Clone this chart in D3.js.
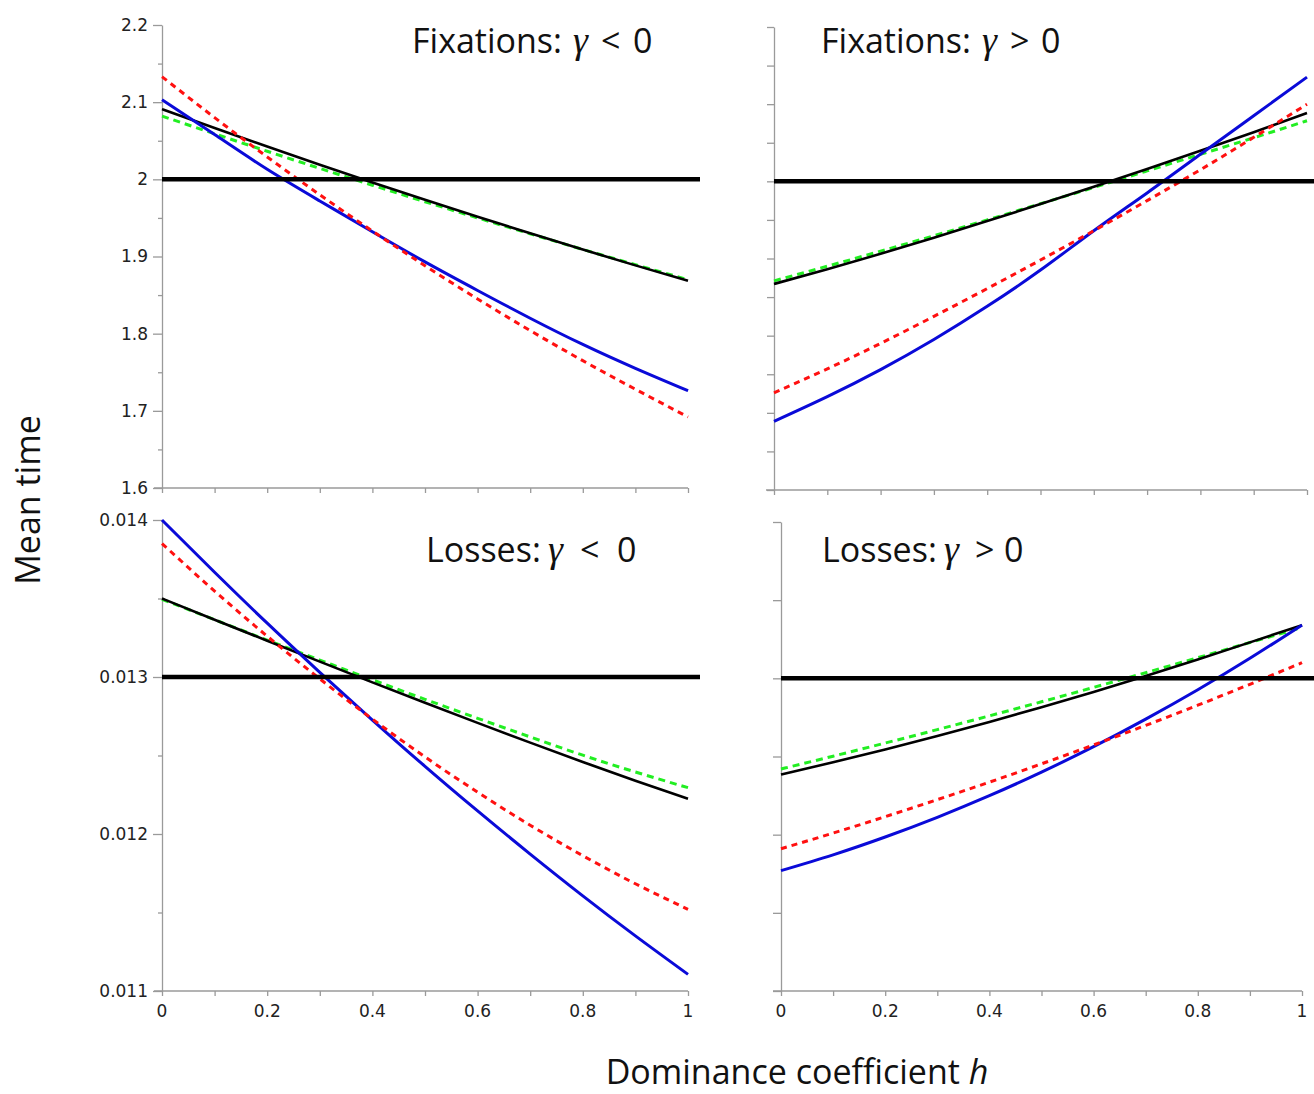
<!DOCTYPE html>
<html lang="en">
<head>
    <meta charset="UTF-8">
    <title>Mean time vs dominance</title>
    <style>
        body { margin: 0; background: #fff; }
        svg text { font-family: "DejaVu Sans", Arial, sans-serif; }
    </style>
</head>
<body>
    <svg id="container" width="1314" height="1094"></svg>

<script src="https://cdn.jsdelivr.net/npm/d3@7/dist/d3.min.js"></script>
<script>

    // dominance coefficient h (x values shared by all curves)
    let hValues = [0, 0.1, 0.2, 0.3, 0.4, 0.5, 0.6, 0.7, 0.8, 0.9, 1]

    // Fixations, gamma < 0
    let fixNegBlue  = [2.103, 2.058, 2.013, 1.972, 1.932, 1.893, 1.856, 1.820, 1.786, 1.755, 1.726]
    let fixNegRed   = [2.133, 2.080, 2.029, 1.980, 1.933, 1.888, 1.845, 1.804, 1.765, 1.728, 1.692]
    let fixNegBlack = [2.091, 2.0665, 2.0425, 2.019, 1.996, 1.9735, 1.9515, 1.930, 1.909, 1.8885, 1.8685]
    let fixNegGreen = [2.082, 2.059, 2.0364, 2.0142, 1.9924, 1.971, 1.950, 1.9294, 1.9092, 1.8894, 1.870]

    // Fixations, gamma > 0
    let fixPosBlue  = [1.689, 1.721, 1.756, 1.795, 1.838, 1.885, 1.936, 1.985, 2.035, 2.085, 2.135]
    let fixPosRed   = [1.726, 1.757, 1.790, 1.825, 1.861, 1.898, 1.936, 1.975, 2.015, 2.057, 2.100]
    let fixPosBlack = [1.867, 1.886, 1.906, 1.927, 1.9485, 1.9705, 1.993, 2.016, 2.0395, 2.0635, 2.0885]
    let fixPosGreen = [1.871, 1.890, 1.9095, 1.9295, 1.950, 1.971, 1.992, 2.0135, 2.035, 2.0565, 2.0785]

    // Losses, gamma < 0
    let lossNegBlue  = [0.014000, 0.013667, 0.013343, 0.013030, 0.012726, 0.012431, 0.012147, 0.011872, 0.011606, 0.011351, 0.011106]
    let lossNegRed   = [0.013850, 0.013547, 0.013260, 0.012988, 0.012732, 0.012491, 0.012266, 0.012056, 0.011862, 0.011683, 0.011520]
    let lossNegBlack = [0.013500, 0.013365, 0.013231, 0.013098, 0.012966, 0.012836, 0.012708, 0.012582, 0.012459, 0.012339, 0.012225]
    let lossNegGreen = [0.013495, 0.013365, 0.013235, 0.013108, 0.012982, 0.012858, 0.012737, 0.012618, 0.012502, 0.012395, 0.012295]

    // Losses, gamma > 0
    let lossPosBlue  = [0.011770, 0.011871, 0.011985, 0.012111, 0.012249, 0.012400, 0.012563, 0.012739, 0.012927, 0.013128, 0.013341]
    let lossPosRed   = [0.011910, 0.012010, 0.012115, 0.012224, 0.012336, 0.012453, 0.012574, 0.012699, 0.012828, 0.012962, 0.013100]
    let lossPosBlack = [0.012385, 0.012463, 0.012545, 0.012631, 0.012721, 0.012815, 0.012913, 0.013015, 0.013121, 0.013230, 0.013340]
    let lossPosGreen = [0.012420, 0.012502, 0.012586, 0.012672, 0.012760, 0.012850, 0.012942, 0.013036, 0.013132, 0.013229, 0.013325]

    // reference levels (thick horizontal lines)
    let fixReference = 2
    let lossReference = 0.013

    // tick values
    let xMajorTicks = [0, 0.2, 0.4, 0.6, 0.8, 1]
    let xMinorTicks = [0, 0.1, 0.2, 0.3, 0.4, 0.5, 0.6, 0.7, 0.8, 0.9, 1]
    let fixMajorTicks = [1.6, 1.7, 1.8, 1.9, 2, 2.1, 2.2]
    let fixMinorTicks = [1.65, 1.75, 1.85, 1.95, 2.05, 2.15]
    let lossMajorTicks = [0.011, 0.012, 0.013, 0.014]
    let lossMinorTicks = [0.0115, 0.0125, 0.0135]

    // panel titles: label, gamma, relation, value
    let titles = [
        ["Fixations:", "γ", "<", "0"],
        ["Fixations:", "γ", ">", "0"],
        ["Losses:", "γ", "<", "0"],
        ["Losses:", "γ", ">", "0"]
    ]

    let container = d3.select("#container")

    let panels = [
        { left: 162, right: 688, top: 25, bottom: 488, domain: [1.6, 2.2], ref: fixReference, refEnd: 700,
          major: fixMajorTicks, minor: fixMinorTicks, yLabels: true, xLabels: false, majorLen: 9, minorLen: 4,
          series: [fixNegGreen, fixNegBlack, fixNegBlue, fixNegRed], title: titles[0],
          titleXs: [412, 573, 601, 633], titleY: 53 },
        { left: 774, right: 1307, top: 27, bottom: 490, domain: [1.6, 2.2], ref: fixReference, refEnd: 1314,
          major: fixMajorTicks, minor: fixMinorTicks, yLabels: false, xLabels: false, majorLen: 7, minorLen: 7,
          series: [fixPosGreen, fixPosBlack, fixPosBlue, fixPosRed], title: titles[1],
          titleXs: [821, 982, 1010, 1041], titleY: 53 },
        { left: 162, right: 688, top: 520, bottom: 991, domain: [0.011, 0.014], ref: lossReference, refEnd: 700,
          major: lossMajorTicks, minor: lossMinorTicks, yLabels: true, xLabels: true, majorLen: 9, minorLen: 4,
          series: [lossNegGreen, lossNegBlack, lossNegBlue, lossNegRed], title: titles[2],
          titleXs: [426, 548, 580, 617], titleY: 562 },
        { left: 781, right: 1302, top: 522, bottom: 991, domain: [0.011, 0.014], ref: lossReference, refEnd: 1314,
          major: lossMajorTicks, minor: lossMinorTicks, yLabels: false, xLabels: true, majorLen: 8, minorLen: 8,
          series: [lossPosGreen, lossPosBlack, lossPosBlue, lossPosRed], title: titles[3],
          titleXs: [822, 944, 975, 1004], titleY: 562 }
    ]

    // green dashed, black solid, blue solid, red dashed
    let styles = [
        { color: "#22ee22", width: 3, dash: "7,5" },
        { color: "#000000", width: 2.6, dash: null },
        { color: "#0a0ad8", width: 3, dash: null },
        { color: "#ff1010", width: 3, dash: "6,5" }
    ]

    let axisColor = "#9a9a9a"

    panels.forEach(drawPanel)

    function drawPanel(p) {

        let x = d3.scaleLinear().domain([0, 1]).range([p.left, p.right])
        let y = d3.scaleLinear().domain(p.domain).range([p.bottom, p.top])

        let g = container.append("g")

        // y axis
        let yAxis = d3.axisLeft(y)
            .tickValues(p.major)
            .tickSize(p.majorLen)
            .tickSizeOuter(0)
            .tickPadding(5)
            .tickFormat(p.yLabels ? d3.format("~g") : "")
        let ya = g.append("g").attr("transform", `translate(${p.left},0)`).call(yAxis)

        let yMinor = d3.axisLeft(y).tickValues(p.minor).tickSize(p.minorLen).tickFormat("")
        let ym = g.append("g").attr("transform", `translate(${p.left},0)`).call(yMinor)
        ym.select(".domain").remove()

        // x axis
        let xAxis = d3.axisBottom(x)
            .tickValues(xMinorTicks)
            .tickSize(5)
            .tickSizeOuter(0)
            .tickFormat("")
        let xa = g.append("g").attr("transform", `translate(0,${p.bottom})`).call(xAxis)
        xa.select(".domain").remove()
        g.append("line")
            .attr("x1", p.left - 8).attr("x2", p.right)
            .attr("y1", p.bottom).attr("y2", p.bottom)
            .attr("stroke", axisColor).attr("stroke-width", 1.3)

        if (p.xLabels) {
            g.append("g").selectAll("text")
                .data(xMajorTicks)
                .join("text")
                .attr("x", d => x(d))
                .attr("y", p.bottom + 26)
                .attr("text-anchor", "middle")
                .attr("font-size", 17)
                .attr("fill", "#222")
                .text(d3.format("~g"))
        }

        g.selectAll(".tick line, .domain")
            .attr("stroke", axisColor)
            .attr("stroke-width", 1.3)
        ya.selectAll("text")
            .attr("font-size", 17)
            .attr("fill", "#222")

        // curves
        let line = d3.line()
            .x((d, i) => x(hValues[i]))
            .y(d => y(d))
            .curve(d3.curveNatural)

        p.series.forEach((values, i) => {
            let s = styles[i]
            g.append("path")
                .attr("d", line(values))
                .attr("fill", "none")
                .attr("stroke", s.color)
                .attr("stroke-width", s.width)
                .attr("stroke-dasharray", s.dash)
        })

        // reference line
        g.append("line")
            .attr("x1", p.left).attr("x2", p.refEnd)
            .attr("y1", y(p.ref)).attr("y2", y(p.ref))
            .attr("stroke", "#000")
            .attr("stroke-width", 4.5)

        // panel title, each piece placed on its own
        let sizes = [34, 38, 34, 34]
        p.title.forEach((part, i) => {
            let t = g.append("text")
                .attr("x", p.titleXs[i])
                .attr("y", p.titleY)
                .attr("font-size", sizes[i])
                .attr("fill", "#111")
                .text(part)
            if (i == 1) {
                t.style("font-family", "'Liberation Serif', serif").style("font-style", "italic")
            } else {
                t.style("font-family", "'Open Sans', sans-serif")
            }
        })
    }

    // axis titles
    container.append("text")
        .attr("transform", "translate(40,500) rotate(-90)")
        .attr("text-anchor", "middle")
        .attr("font-size", 34)
        .style("font-family", "'Open Sans', sans-serif")
        .attr("fill", "#111")
        .text("Mean time")

    let xTitle = container.append("text")
        .attr("x", 797)
        .attr("y", 1084)
        .attr("text-anchor", "middle")
        .attr("font-size", 34)
        .style("font-family", "'Open Sans', sans-serif")
        .attr("fill", "#111")
    xTitle.append("tspan").text("Dominance coefficient ")
    xTitle.append("tspan").style("font-style", "italic").text("h")

</script>
</body>
</html>
